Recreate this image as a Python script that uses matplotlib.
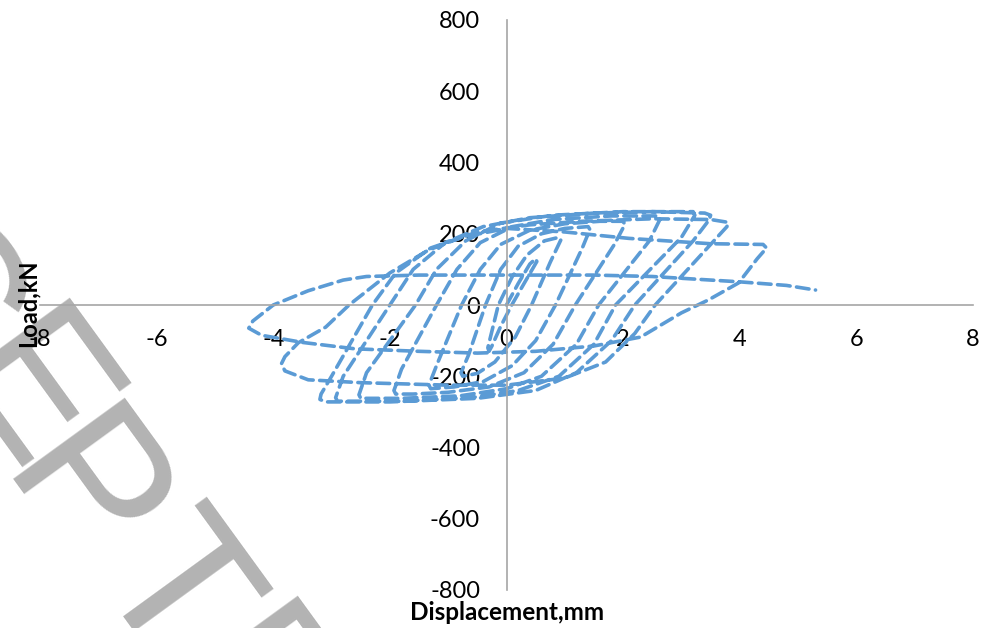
import matplotlib
matplotlib.use("Agg")
import matplotlib.pyplot as plt

# ---------------- data ----------------
disp = [
    0, 0.2, 0.4, 0.5,
    0.52, 0.3, 0.09, -0.1, -0.25, -0.3,
    -0.32, -0.14, 0.1, 0.35, 0.65, 0.9,
    0.93, 0.75, 0.43, 0.15, -0.2, -0.5, -0.75,
    -0.78, -0.65, -0.36, -0.1, 0.2, 0.6, 1.0, 1.4,
    1.43, 1.3, 0.84, 0.5, 0.1, -0.4, -0.9, -1.3,
    -1.33, -1.2, -0.77, -0.45, -0.1, 0.4, 1.0, 1.6, 2.0,
    2.03, 1.85, 1.18, 0.8, 0.3, -0.3, -1.0, -1.6, -1.9,
    -1.93, -1.8, -1.2, -0.85, -0.45, 0.1, 0.8, 1.8, 2.6,
    2.63, 2.45, 1.58, 1.2, 0.6, 0.0, -0.8, -1.8, -2.5,
    -2.53, -2.4, -1.56, -1.2, -0.7, -0.1, 0.8, 2.0, 3.2,
    3.23, 3.0, 1.87, 1.5, 0.9, 0.2, -0.6, -1.8, -2.9,
    -2.93, -2.8, -2.0, -1.6, -1.05, -0.4, 0.4, 1.5, 2.5, 3.4, 3.5,
    3.48, 3.2, 2.2, 1.8, 1.2, 0.5, -0.5, -2.0, -3.1, -3.2,
    -3.18, -3.0, -2.3, -1.9, -1.3, -0.5, 0.4, 1.3, 2.5, 3.5, 3.8,
    3.78, 3.5, 2.55, 2.2, 1.7, 1.0, 0.0, -1.0, -2.5, -3.4, -3.8, -3.86,
    -3.8, -3.57, -3.1, -2.7, -2.0, -1.34, -0.77, 0.0, 1.0, 2.1, 3.5, 4.4, 4.46,
    4.3, 3.98, 3.46, 3.0, 2.3, 1.5, 0.5, -0.5, -1.5, -2.6, -3.5, -4.2, -4.42,
    -4.35, -4.0, -3.4, -2.8, -2.4, -1.5, 0.0, 1.5, 2.5, 4.0, 4.8, 5.3,
]
load = [
    0, 60, 115, 130,
    122, 60, 0, -60, -115, -130,
    -120, 0, 80, 140, 180, 190,
    182, 120, 0, -90, -160, -192, -200,
    -190, -140, 0, 100, 165, 200, 215, 220,
    212, 160, 0, -100, -170, -215, -230, -235,
    -225, -170, 0, 100, 170, 210, 228, 235, 235,
    226, 170, 0, -110, -190, -230, -245, -250, -250,
    -240, -180, 0, 100, 175, 220, 240, 250, 250,
    240, 180, 0, -110, -200, -235, -255, -262, -262,
    -252, -190, 0, 100, 180, 230, 252, 262, 262,
    252, 190, 0, -110, -200, -240, -260, -270, -270,
    -260, -200, 0, 100, 175, 220, 245, 258, 262, 258, 252,
    240, 180, 0, -100, -190, -240, -262, -272, -272, -265,
    -250, -200, 0, 90, 160, 205, 225, 235, 242, 240, 232,
    220, 170, 0, -80, -160, -205, -225, -225, -218, -210, -185, -165,
    -145, -106, -62, 0, 90, 154, 190, 215, 205, 187, 172, 170, 160,
    130, 62, 14, -22, -90, -115, -130, -135, -130, -123, -105, -85, -65,
    -45, 0, 40, 70, 80, 84, 84, 84, 80, 65, 55, 42,
]
assert len(disp) == len(load)

x_ticks = [-8, -6, -4, -2, 0, 2, 4, 6, 8]
y_ticks = [-800, -600, -400, -200, 0, 200, 400, 600, 800]
x_title = "Displacement,mm"
y_title = "Load,kN"
watermark_letters = ["C", "E", "P", "T", "E"]

# ---------------- figure ----------------
W, H = 981, 628
fig = plt.figure(figsize=(W / 100, H / 100), dpi=100)
fig.patch.set_facecolor("white")

# watermark letters (behind everything)
wm_centers = [(-68, 300), (22, 402), (77, 502), (167, 596), (250, 700)]
for ch, (px, py) in zip(watermark_letters, wm_centers):
    fig.text(px / W, 1 - py / H, ch, fontsize=145, color="#b3b3b3",
             family="Liberation Sans", rotation=-54, rotation_mode="anchor",
             ha="center", va="center", zorder=0)

ax = fig.add_axes([40 / W, 1 - 590 / H, 933 / W, 570 / H])
ax.set_facecolor("none")
ax.set_zorder(2)
ax.plot(disp, load, color="#5B9BD5", lw=2.6, linestyle=(0, (3.5, 1.8)),
        dash_capstyle="round", dash_joinstyle="round")

ax.set_xlim(-8, 8)
ax.set_ylim(-800, 800)
ax.set_xticks(x_ticks)
ax.set_yticks(y_ticks)
ax.set_xticklabels([str(v) for v in x_ticks])
ax.set_yticklabels([str(v) for v in y_ticks])
for s in ("top", "right"):
    ax.spines[s].set_visible(False)
ax.spines["left"].set_position(("data", 0))
ax.spines["bottom"].set_position(("data", 0))
for s in ("left", "bottom"):
    ax.spines[s].set_color("#a6a6a6")
    ax.spines[s].set_linewidth(1.2)
ax.tick_params(axis="both", length=0, labelsize=17, colors="#000000")
ax.tick_params(axis="x", pad=17)
ax.tick_params(axis="y", pad=19)
for lab in ax.get_xticklabels() + ax.get_yticklabels():
    lab.set_family("Lato")

fig.text(507 / W, 1 - 612 / H, x_title, fontsize=17.5, fontweight="bold",
         family="Lato", ha="center", va="center", zorder=3)
fig.text(28 / W, 1 - 303 / H, y_title, fontsize=17, fontweight="bold",
         family="Lato", ha="center", va="center", rotation=90, zorder=3)

fig.savefig("out.png", dpi=100)
